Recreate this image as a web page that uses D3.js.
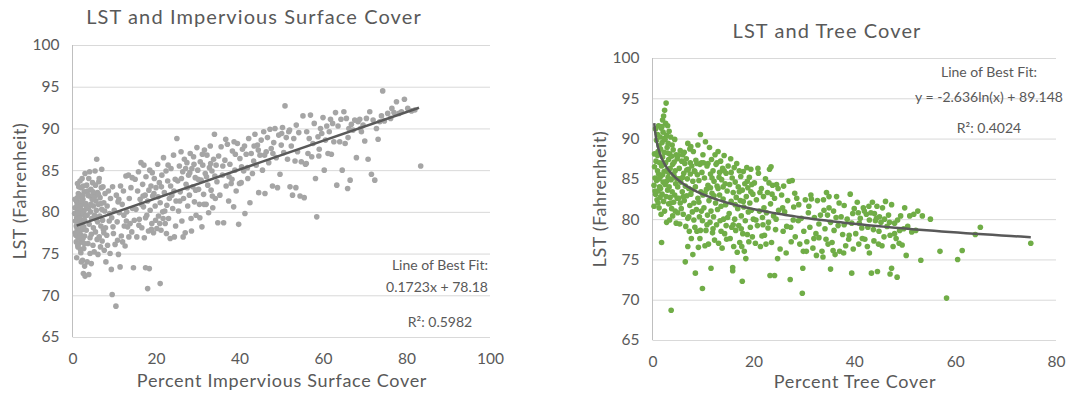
<!DOCTYPE html>
<html>
<head>
<meta charset="utf-8">
<script src="https://cdn.jsdelivr.net/npm/d3@7"></script>
<style>
  body { margin: 0; background: #fff; }
  text { font-family: Lato, "Open Sans", sans-serif; fill: #595959; }
  .grid line { stroke: #d9d9d9; }
  .grid path { display: none; }
</style>
</head>
<body>
<div id="chart"></div>
<script>
// tick labels
const yTicks = [65, 70, 75, 80, 85, 90, 95, 100];
const imperviousTicks = [0, 20, 40, 60, 80, 100];
const treeTicks = [0, 20, 40, 60, 80];

// fit coefficients (from the labels on the chart)
const imperviousFit = { slope: 0.1723, intercept: 78.18, from: 1, to: 83 };
const treeFit = { a: -2.636, b: 89.148, from: 0.35, to: 75 };

// LST vs percent impervious surface cover, [x, y]
const imperviousPoints = [
  [0.5,79.8],[0.6,80.5],[0.7,78.9],[0.8,77.2],[0.9,76.4],[1.0,81.2],[1.0,79.3],[1.1,78.0],[1.2,83.4],[1.2,80.1],[1.3,76.9],[1.3,75.8],[1.4,82.2],[1.5,79.6],[1.5,77.6],[1.6,81.0],[1.6,78.7],[1.7,80.6],[1.7,76.3],[1.8,83.7],[1.8,79.1],[1.9,77.3],[1.9,81.8],[2.0,80.3],[2.0,75.1],[2.1,78.4],[2.1,82.9],[2.2,79.7],[2.2,76.7],[2.3,84.0],[2.3,80.9],[2.4,77.9],[2.4,74.2],[2.5,81.5],[2.5,79.0],[2.6,72.6],[2.6,83.1],[2.7,78.2],[2.7,75.6],[2.8,80.2],[2.8,82.4],[2.9,77.1],[2.9,73.5],[3.0,79.5],[3.0,84.6],[3.0,72.3],[1.1,80.8],[1.4,79.9],[0.9,78.3],[1.6,77.8],[2.0,80.8],[2.3,78.9],[1.2,81.7],[1.8,80.4],[2.6,80.0],[0.7,77.5],[1.5,83.0],[2.2,81.3],[2.8,76.2],[1.0,74.5],[1.3,76.0],[2.4,82.0],[1.7,79.3],[2.9,79.0],[0.6,81.5],[2.1,74.0],[1.9,75.5],[2.5,76.8],
  [3.2,81.0],[3.3,77.8],[3.4,83.2],[3.5,74.0],[3.5,79.6],[3.6,82.5],[3.7,76.2],[3.8,80.4],[3.9,72.5],[4.0,81.9],[4.0,78.5],[4.1,84.8],[4.2,75.0],[4.3,80.0],[4.4,82.7],[4.5,73.8],[4.5,77.3],[4.6,79.2],[4.7,81.5],[4.8,83.5],[4.9,76.0],[5.0,80.7],[5.0,78.1],[5.1,82.0],[5.2,75.2],[5.3,79.6],[5.4,84.9],[5.5,77.6],[5.6,81.3],[5.7,80.2],[5.8,86.3],[5.9,76.7],[6.0,82.3],[6.0,78.8],[6.1,74.9],[6.2,80.9],[6.3,83.6],[6.4,77.0],[6.5,79.5],[6.6,81.7],[6.7,75.8],[6.8,78.3],[6.9,82.9],[7.0,85.1],[7.0,80.3],[7.1,76.5],[7.2,79.0],[7.3,83.0],[7.4,77.9],[7.5,81.1],[7.6,75.4],[7.7,80.1],[7.8,82.2],[7.9,78.1],[8.0,74.0],[3.7,82.0],[4.4,80.9],[5.3,81.8],[6.2,82.1],[3.4,80.6],[4.9,82.4],[5.7,79.1],[6.8,81.0],[7.5,77.5],[4.2,76.9],[5.5,83.2],[6.4,84.0],[3.9,84.0],
  [8.2,77.2],[8.3,80.7],[8.4,76.0],[8.6,82.5],[8.8,78.9],[9.0,75.0],[9.1,81.6],[9.3,73.1],[9.4,79.3],[9.5,70.1],[9.6,83.0],[9.8,77.4],[10.0,80.2],[10.2,76.1],[10.4,68.7],[10.5,82.0],[10.7,78.8],[10.9,81.2],[11.0,74.9],[11.2,79.9],[11.4,73.4],[11.5,83.1],[11.7,77.1],[11.9,80.9],[12.0,76.4],[12.2,82.5],[12.4,78.3],[12.6,75.9],[12.8,84.3],[13.0,80.0],[13.2,78.2],[13.4,84.4],[13.6,81.6],[13.8,78.6],[14.0,82.9],[14.2,77.6],[14.4,80.4],[14.6,73.3],[14.8,79.0],[15.0,83.9],[9.7,78.2],[11.1,81.5],[12.3,79.6],[13.5,77.0],[14.3,84.1],[10.8,76.6],[12.9,78.9],[8.9,79.8],
  [15.2,80.3],[15.4,77.0],[15.6,82.5],[15.8,84.8],[16.0,79.1],[16.2,81.5],[16.4,85.9],[16.6,78.1],[16.8,83.3],[17.0,80.6],[17.2,76.9],[17.4,82.0],[17.6,84.2],[17.8,79.6],[18.0,70.8],[18.0,81.3],[18.2,77.7],[18.4,73.2],[18.5,85.0],[18.6,80.2],[18.8,83.1],[19.0,78.6],[19.2,81.9],[19.4,77.5],[19.6,84.0],[19.8,80.7],[20.0,82.9],[20.2,78.0],[20.4,85.7],[20.6,79.5],[20.8,83.5],[21.0,71.4],[21.0,81.1],[21.2,77.8],[21.4,84.4],[21.6,80.0],[21.8,86.5],[22.0,82.3],[22.2,78.6],[22.4,84.9],[22.6,80.8],[22.8,83.7],[23.0,79.2],[23.2,81.6],[23.4,76.8],[23.6,85.2],[23.8,82.0],[24.0,80.4],[24.2,86.8],[24.4,77.0],[24.6,83.9],[24.8,81.3],[25.0,88.8],[16.5,80.9],[17.5,79.3],[18.3,82.6],[19.1,84.7],[19.9,79.0],[20.5,81.8],[21.3,83.0],[22.1,80.1],[22.9,85.6],[23.5,83.1],[24.3,82.5],[15.9,78.4],[17.1,85.6],[18.9,77.9],[20.9,78.6],[22.5,77.4],[24.7,78.3],[16.9,81.9],[19.5,82.2],[21.7,79.2],[17.5,73.3],
  [25.2,83.7],[25.4,80.1],[25.6,85.5],[25.8,82.4],[26.0,87.2],[26.2,78.9],[26.4,84.8],[26.6,81.6],[26.8,86.3],[27.0,77.5],[27.2,83.3],[27.4,85.9],[27.6,80.7],[27.8,84.4],[28.0,82.0],[28.2,87.0],[28.4,79.2],[28.6,85.2],[28.8,83.0],[29.0,86.6],[29.2,81.2],[29.4,84.1],[29.6,79.6],[29.8,87.7],[30.0,85.0],[30.2,82.7],[30.4,80.9],[30.6,86.0],[30.8,83.8],[31.0,78.2],[31.2,85.6],[31.4,82.1],[31.6,87.4],[31.8,84.6],[32.0,80.9],[32.2,86.8],[32.4,83.2],[32.6,79.9],[32.8,85.3],[33.0,87.9],[33.2,82.6],[33.4,84.9],[33.6,80.5],[33.8,86.3],[34.0,89.3],[34.2,81.6],[34.4,85.6],[34.6,83.6],[34.8,78.7],[35.0,86.7],[26.1,84.0],[27.1,85.2],[28.1,84.7],[29.1,85.7],[30.1,83.9],[31.1,86.9],[32.1,84.2],[33.1,85.8],[34.1,84.3],[25.7,81.3],[27.5,82.9],[29.5,82.6],[31.5,80.9],[33.5,81.9],[26.5,77.0],[28.5,77.7],[30.5,79.3],
  [35.3,82.0],[35.6,87.8],[35.9,84.4],[36.2,78.7],[36.5,86.2],[36.8,83.1],[37.1,88.1],[37.4,81.3],[37.7,85.7],[38.0,83.4],[38.3,87.3],[38.6,80.6],[38.9,85.0],[39.2,82.5],[39.5,88.2],[39.8,78.5],[40.1,86.4],[40.4,83.5],[40.7,87.5],[41.0,84.9],[41.3,79.8],[41.6,86.9],[41.9,85.3],[42.2,88.8],[42.5,81.1],[42.8,87.0],[43.1,84.6],[43.4,86.1],[43.7,89.3],[44.0,85.6],[44.3,88.0],[44.6,82.3],[44.9,86.8],[36.0,85.5],[37.5,84.2],[39.0,86.9],[40.5,85.4],[42.0,84.0],[43.5,87.9],[44.5,87.4],[36.7,88.7],[38.7,88.4],[41.2,87.9],[38.2,83.9],[40.0,83.4],
  [45.2,88.6],[45.5,85.0],[45.8,89.6],[46.1,82.2],[46.4,87.2],[46.7,88.9],[47.0,85.9],[47.3,89.9],[47.6,87.6],[47.9,83.1],[48.2,88.3],[48.5,90.0],[48.8,86.5],[49.1,82.9],[49.4,89.2],[49.7,84.5],[50.0,88.0],[50.3,90.1],[50.6,87.1],[50.9,92.7],[51.2,88.9],[51.5,86.3],[51.8,89.6],[52.1,83.0],[52.4,87.9],[52.7,82.0],[53.0,88.8],[53.3,86.1],[53.6,90.4],[53.9,87.2],[54.2,89.5],[54.5,81.9],[54.8,86.0],[46.0,86.8],[48.0,87.0],[50.1,89.4],[52.0,89.8],[53.5,82.9],
  [55.2,91.5],[55.5,81.7],[55.8,85.7],[56.1,89.6],[56.4,87.0],[56.7,88.8],[57.0,91.6],[57.3,86.6],[57.6,88.2],[57.9,90.6],[58.2,84.0],[58.5,79.4],[58.8,89.0],[59.1,87.5],[59.4,90.0],[59.7,89.4],[60.0,91.3],[60.3,85.0],[60.6,88.6],[60.9,90.3],[61.2,87.0],[61.5,89.6],[62.0,86.9],[62.3,90.6],[62.6,88.4],[63.0,91.9],[63.3,83.2],[63.6,90.3],[64.0,88.4],[64.3,91.1],[64.6,85.0],[65.0,92.0],[56.0,85.8],[59.0,86.7],[61.8,91.1],
  [65.3,88.2],[65.6,91.2],[65.9,82.8],[66.2,90.0],[66.5,83.8],[66.8,90.5],[67.2,89.8],[67.6,91.0],[68.0,86.5],[68.4,90.8],[68.8,91.1],[69.2,89.6],[69.6,90.4],[70.0,88.5],[70.4,91.2],[70.8,86.3],[71.2,92.0],[71.6,84.5],[72.0,91.0],[72.4,83.8],[72.8,90.0],[73.2,88.7],[73.6,90.8],[74.0,91.5],[74.3,94.5],[74.7,90.9],[66.0,88.9],[69.0,90.0],
  [75.5,91.8],[76.2,91.2],[77.0,91.9],[77.6,93.2],[78.2,91.8],[78.8,92.0],[79.5,93.5],[80.3,92.4],[81.2,92.1],[82.0,92.2],[83.4,85.5],[76.5,92.4]
];

// LST vs percent tree cover, [x, y]
const treePoints = [
  [0.3,81.6],[0.3,84.2],[0.4,86.5],[0.4,88.1],[0.5,85.1],[0.6,83.1],[0.6,91.2],[0.7,87.2],[0.8,89.8],[0.8,84.8],[0.9,82.4],[1.0,90.5],[1.0,86.0],[1.1,88.4],[1.1,83.5],[1.2,91.6],[1.2,85.6],[1.3,81.4],[1.3,89.1],[1.4,87.0],[1.4,84.0],[1.5,90.2],[1.5,82.7],[1.6,88.7],[1.6,85.3],[1.7,91.3],[1.7,80.6],[1.8,77.1],[1.8,86.6],[1.9,89.5],[1.9,83.1],[2.0,92.3],[2.0,87.7],[2.1,84.6],[2.1,90.8],[2.2,82.2],[2.2,92.8],[2.3,88.3],[2.3,85.9],[2.4,93.5],[2.4,81.0],[2.5,89.9],[2.5,84.3],[2.6,91.9],[2.6,87.0],[2.7,94.4],[2.7,82.8],[2.8,90.4],[2.8,79.6],[2.9,86.1],[2.9,88.9],[3.0,91.6],[3.0,83.6],[3.1,85.2],[3.1,89.4],[3.2,81.9],[3.2,87.4],[3.3,90.9],[3.3,84.0],[3.4,79.9],[3.4,88.1],[3.5,86.3],[3.5,82.7],[3.6,90.2],[3.7,68.7],[3.7,84.9],[3.8,87.8],[3.8,81.3],[3.9,89.2],[3.9,83.4],[4.0,86.8],[4.0,80.4],[4.1,88.6],[4.2,82.1],[4.2,85.6],[4.3,87.1],[4.4,83.0],[4.4,89.9],[4.5,81.0],[4.5,86.0],[4.6,84.4],[4.7,88.0],[4.7,79.5],[4.8,85.0],[4.9,82.6],[4.9,87.5],[5.0,84.0],[5.0,80.8],[1.0,87.9],[1.3,85.0],[1.6,83.8],[2.0,85.5],[2.4,86.8],[2.8,84.7],[3.2,85.8],[3.6,82.0],[4.3,85.3],[0.5,83.5],[1.9,91.5],[2.3,90.0],[3.0,88.2],[1.1,82.0],
  [5.1,87.9],[5.2,82.6],[5.3,86.3],[5.4,79.4],[5.5,88.5],[5.6,84.6],[5.7,81.3],[5.8,87.2],[5.9,83.4],[6.0,88.0],[6.1,80.6],[6.2,85.7],[6.3,82.3],[6.4,86.9],[6.5,74.7],[6.5,84.1],[6.6,79.1],[6.7,87.5],[6.8,82.9],[6.9,85.0],[7.0,89.4],[7.0,80.1],[7.1,86.2],[7.2,83.8],[7.3,78.5],[7.4,88.7],[7.4,81.7],[7.5,85.6],[7.6,89.0],[7.6,83.1],[7.7,77.6],[7.8,86.6],[7.9,80.9],[8.0,84.7],[8.0,75.6],[8.1,88.4],[8.2,82.0],[8.3,86.0],[8.4,79.0],[8.5,73.3],[8.5,84.0],[8.6,87.3],[8.7,81.2],[8.8,78.5],[8.9,85.5],[9.0,82.6],[9.0,89.2],[9.1,76.5],[9.2,84.8],[9.3,80.3],[9.4,86.8],[9.5,90.5],[9.5,78.6],[9.6,83.4],[9.7,81.0],[9.8,85.8],[9.9,71.4],[9.9,79.8],[10.0,88.0],[10.0,83.0],[5.5,82.0],[6.0,85.2],[6.8,86.1],[7.2,80.3],[7.8,83.6],[8.4,85.9],[9.2,82.1],[9.7,87.0],[5.3,85.0],[6.3,88.3],[7.5,87.0],[8.8,86.9],[9.4,77.6],[6.1,82.8],[8.2,79.9],[7.0,76.6],
  [10.2,81.4],[10.3,85.1],[10.4,76.7],[10.5,89.6],[10.6,78.6],[10.7,83.7],[10.8,86.6],[10.9,80.5],[11.0,84.2],[11.1,76.9],[11.2,82.3],[11.3,88.9],[11.4,79.6],[11.5,85.6],[11.6,73.9],[11.6,81.0],[11.7,87.4],[11.8,83.2],[11.9,78.3],[12.0,86.0],[12.1,80.3],[12.2,84.7],[12.3,77.4],[12.4,88.0],[12.5,82.0],[12.6,86.8],[12.7,79.3],[12.8,84.1],[12.9,81.2],[13.0,88.4],[13.1,77.0],[13.2,85.2],[13.3,83.0],[13.4,79.8],[13.5,87.2],[13.6,81.6],[13.7,84.9],[13.8,76.4],[13.9,86.3],[14.0,82.5],[14.1,80.0],[14.2,87.9],[14.3,78.2],[14.4,84.4],[14.5,81.8],[14.6,85.7],[14.7,77.5],[14.8,83.5],[14.9,80.2],[15.0,86.6],[10.4,83.2],[11.0,86.9],[11.5,83.9],[12.2,82.9],[12.8,87.0],[13.3,85.8],[14.0,84.0],[14.6,79.2],[10.8,79.3],[12.0,78.8],[13.6,78.5],[11.8,85.1],[13.0,83.8],[14.2,86.0],[10.1,87.0],
  [15.2,80.7],[15.3,84.3],[15.4,77.6],[15.5,87.5],[15.6,82.2],[15.7,79.0],[15.8,85.1],[15.9,73.6],[15.9,74.0],[16.0,83.3],[16.1,76.6],[16.2,86.4],[16.3,80.0],[16.4,84.6],[16.5,78.6],[16.6,82.7],[16.7,86.9],[16.8,75.9],[16.9,81.3],[17.0,84.0],[17.1,79.2],[17.2,86.0],[17.3,77.1],[17.4,82.3],[17.5,85.3],[17.6,80.4],[17.7,76.6],[17.8,72.3],[17.8,83.6],[17.9,78.2],[18.0,85.9],[18.1,81.5],[18.2,76.0],[18.3,84.4],[18.4,79.8],[18.5,75.1],[18.6,82.8],[18.7,86.4],[18.8,78.1],[18.9,83.9],[19.0,80.9],[19.1,77.2],[19.2,85.2],[19.3,82.0],[19.4,79.0],[19.5,86.2],[19.6,81.1],[19.7,84.3],[19.8,77.8],[19.9,83.1],[20.0,80.0],[15.6,85.8],[16.4,81.8],[17.2,83.4],[18.0,82.2],[18.8,84.7],[19.5,83.4],[16.0,79.3],[17.6,78.8],
  [20.2,84.5],[20.4,77.0],[20.6,82.4],[20.8,79.2],[21.0,85.7],[21.2,81.0],[21.4,76.6],[21.6,83.8],[21.8,80.2],[22.0,82.8],[22.2,78.0],[22.4,85.0],[22.6,80.8],[22.8,83.3],[23.0,79.6],[23.2,86.2],[23.3,73.0],[23.4,81.9],[23.6,77.1],[23.8,84.2],[24.0,80.4],[24.2,73.0],[24.2,82.6],[24.4,78.7],[24.6,84.3],[24.8,75.1],[25.0,81.1],[20.5,79.9],[21.3,83.3],[22.1,81.4],[22.9,78.9],[23.7,83.1],[24.5,80.0],[21.7,77.9],[23.1,84.5],[20.9,86.3],[22.5,76.9],[24.9,83.8],[23.5,86.5],[21.9,79.3],
  [25.3,76.3],[25.6,83.0],[25.9,78.5],[26.2,80.9],[26.5,75.8],[26.8,82.3],[27.1,84.7],[27.3,72.5],[27.4,79.0],[27.7,84.8],[28.0,81.5],[28.3,77.8],[28.6,82.6],[28.9,79.8],[29.2,76.9],[29.5,80.1],[29.7,70.8],[29.8,73.9],[30.0,78.5],[25.8,81.4],[26.6,79.1],[27.5,77.2],[28.2,83.2],[29.0,81.8],[29.9,76.0],[27.9,79.9],[26.0,84.1],
  [30.3,82.4],[30.6,77.2],[30.9,80.8],[31.2,79.0],[31.5,82.5],[31.8,76.4],[32.1,80.2],[32.4,78.2],[32.7,82.3],[33.0,77.7],[33.3,80.5],[33.6,76.0],[33.9,82.4],[34.2,78.8],[34.5,83.3],[34.8,76.9],[35.0,81.4],[35.3,73.8],[35.3,79.6],[31.0,81.6],[32.0,77.6],[33.0,79.4],[34.0,81.1],[34.7,80.5],[30.5,76.0],[32.5,75.5],[33.8,75.3],[31.4,83.0],[34.4,77.5],[35.0,82.8],
  [35.6,77.1],[35.9,81.0],[36.2,75.6],[36.5,82.8],[36.8,79.2],[37.1,76.0],[37.4,80.3],[37.7,78.1],[38.0,81.7],[38.3,76.7],[38.6,80.0],[38.9,77.5],[39.2,83.1],[39.5,73.3],[39.5,79.5],[39.8,76.3],[40.0,81.3],[36.0,78.6],[37.0,82.0],[38.0,79.3],[39.0,78.0],[36.4,80.2],[37.9,75.8],[39.7,80.7],[35.8,76.1],
  [40.3,78.2],[40.6,82.1],[40.9,76.9],[41.2,80.1],[41.5,78.9],[41.8,81.4],[42.1,77.5],[42.4,80.6],[42.7,79.0],[43.0,75.8],[43.3,80.8],[43.4,73.3],[43.6,82.1],[43.9,77.3],[44.2,79.8],[44.5,81.6],[44.6,73.5],[44.8,76.9],[45.0,80.3],[41.0,79.5],[42.0,81.0],[43.0,79.9],[44.0,80.7],[44.9,78.5],[42.6,76.6],[41.6,77.6],[43.8,78.7],[44.4,80.1],[40.8,80.8],[42.9,81.6],
  [45.3,79.6],[45.6,81.4],[45.9,77.8],[46.2,82.2],[46.5,79.1],[46.8,80.5],[47.1,73.2],[47.1,78.0],[47.4,73.9],[47.4,81.8],[47.7,76.6],[48.0,79.5],[48.3,77.6],[48.5,72.8],[48.6,79.9],[48.9,77.0],[49.2,80.4],[49.5,76.8],[49.8,78.8],[50.0,81.4],[46.0,80.0],[47.0,79.6],[48.0,78.2],[49.0,78.6],[45.5,76.7],
  [50.3,75.5],[50.6,79.1],[51.0,80.4],[51.4,78.4],[51.8,80.6],[52.2,78.6],[53.2,74.9],[53.5,80.4],[55.1,80.0],[57.0,76.0],[58.3,70.2],[60.5,75.0],[61.4,76.1],[64.0,78.1],[65.0,79.0],[75.0,77.0],[52.6,81.0]
];

// svg container size
const width = 1089;
const height = 393;

function createSvg() {
    const svg = d3.select("#chart").append("svg")
        .attr("width", width)
        .attr("height", height)
    return svg
};

// draw one scatter panel
function drawPanel(svg, opts) {
    const x = d3.scaleLinear()
        .domain([0, opts.xMax])
        .range([opts.left, opts.right])
    const y = d3.scaleLinear()
        .domain([65, 100])
        .range([opts.bottom, opts.top])

    // gridlines + y tick labels
    const leftAxis = d3.axisLeft(y)
        .tickValues(yTicks)
        .tickSize(-(opts.right - opts.left))
        .tickPadding(13)
    const yAxis = svg.append("g")
        .attr("class", "grid")
        .attr("transform", `translate(${opts.left}, 0)`)
        .call(leftAxis)
    yAxis.selectAll("text")
        .style("font-size", "15.5px")
        .style("fill", "#595959")

    // left axis line
    svg.append("line")
        .attr("x1", opts.left).attr("x2", opts.left)
        .attr("y1", opts.top).attr("y2", opts.bottom)
        .attr("stroke", "#bfbfbf")

    // x tick labels
    const bottomAxis = d3.axisBottom(x)
        .tickValues(opts.xTicks)
        .tickSize(0)
        .tickPadding(16)
    const xAxis = svg.append("g")
        .attr("transform", `translate(0, ${opts.bottom})`)
        .call(bottomAxis)
    xAxis.select(".domain").remove()
    xAxis.selectAll("text")
        .style("font-size", "15.5px")
        .style("fill", "#595959")

    // points
    svg.append("g")
        .selectAll("circle")
        .data(opts.points)
        .enter()
        .append("circle")
        .attr("cx", d => x(d[0]))
        .attr("cy", d => y(d[1]))
        .attr("r", 2.8)
        .attr("fill", opts.color)

    // trend line
    const line = d3.line()
        .x(d => x(d[0]))
        .y(d => y(d[1]))
    svg.append("path")
        .datum(opts.trend)
        .attr("d", line)
        .attr("fill", "none")
        .attr("stroke", "#595959")
        .attr("stroke-width", 2.5)

    // titles
    svg.append("text")
        .attr("x", opts.titleX).attr("y", opts.titleY)
        .attr("text-anchor", "middle")
        .style("font-size", "20px")
        .style("letter-spacing", "1.1px")
        .text(opts.title)
    svg.append("text")
        .attr("x", opts.xLabelX).attr("y", opts.xLabelY)
        .attr("text-anchor", "middle")
        .style("font-size", "18px")
        .style("letter-spacing", "0.7px")
        .text(opts.xLabel)
    svg.append("text")
        .attr("transform", `translate(${opts.yLabelX}, ${(opts.top + opts.bottom) / 2}) rotate(-90)`)
        .attr("text-anchor", "middle")
        .attr("dy", "0.35em")
        .style("font-size", "18px")
        .style("letter-spacing", "0.6px")
        .text("LST (Fahrenheit)")

    // fit annotations
    opts.notes.forEach(n => {
        svg.append("text")
            .attr("x", n.x).attr("y", n.y)
            .attr("text-anchor", n.anchor)
            .style("font-size", "14px")
            .text(n.text)
    })
};

const svg = createSvg()

// left panel trend: straight line between the fit's end x values
const imperviousTrend = [imperviousFit.from, imperviousFit.to]
    .map(v => [v, imperviousFit.slope * v + imperviousFit.intercept])

drawPanel(svg, {
    left: 72.5, right: 490, top: 45, bottom: 337,
    xMax: 100, xTicks: imperviousTicks,
    points: imperviousPoints, color: "#a5a5a5",
    trend: imperviousTrend,
    title: "LST and Impervious Surface Cover", titleX: 254, titleY: 24,
    xLabel: "Percent Impervious Surface Cover", xLabelX: 282, xLabelY: 387,
    yLabelX: 20,
    notes: [
        { x: 488, y: 270, anchor: "end", text: "Line of Best Fit:" },
        { x: 488, y: 292, anchor: "end", text: "0.1723x + 78.18" },
        { x: 440, y: 327, anchor: "middle", text: "R²: 0.5982" }
    ]
})

// right panel trend: log curve sampled along the x range
const treeTrend = d3.range(0, 201)
    .map(i => treeFit.from * Math.pow(treeFit.to / treeFit.from, i / 200))
    .map(v => [v, treeFit.a * Math.log(v) + treeFit.b])

drawPanel(svg, {
    left: 652.5, right: 1056, top: 58, bottom: 340,
    xMax: 80, xTicks: treeTicks,
    points: treePoints, color: "#70ad47",
    trend: treeTrend,
    title: "LST and Tree Cover", titleX: 827, titleY: 38,
    xLabel: "Percent Tree Cover", xLabelX: 855, xLabelY: 388,
    yLabelX: 600,
    notes: [
        { x: 989, y: 77, anchor: "middle", text: "Line of Best Fit:" },
        { x: 989, y: 102, anchor: "middle", text: "y = -2.636ln(x) + 89.148" },
        { x: 989, y: 133, anchor: "middle", text: "R²: 0.4024" }
    ]
})
</script>
</body>
</html>
